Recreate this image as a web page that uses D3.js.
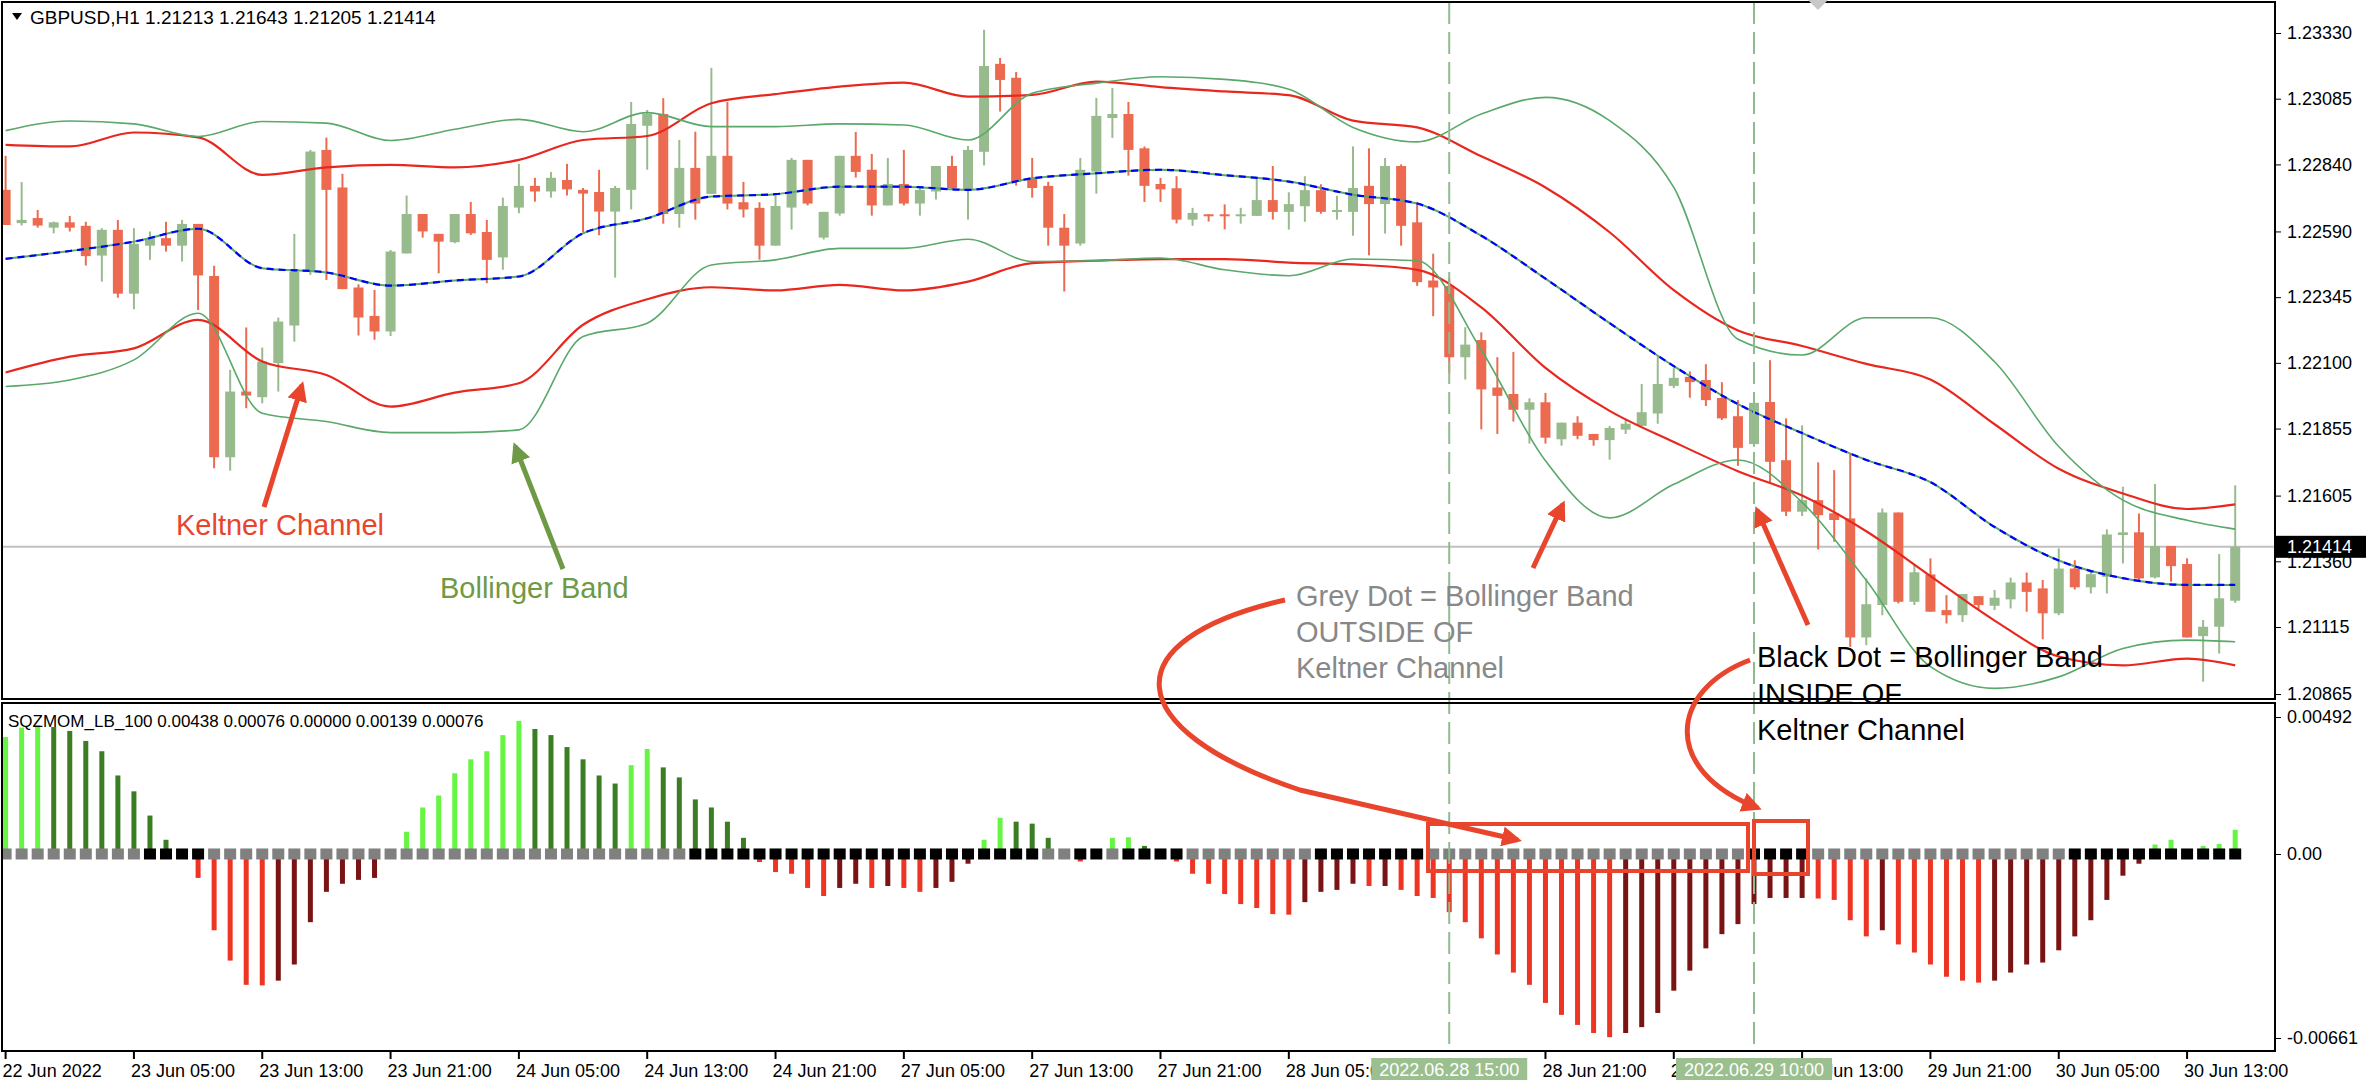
<!DOCTYPE html>
<html><head><meta charset="utf-8">
<script src="https://cdn.jsdelivr.net/npm/d3@7"></script>
<style>body{margin:0;background:#fff}svg{display:block}text{font-family:"Liberation Sans",Arial,sans-serif}</style>
</head><body><svg id="c" width="2366" height="1090"></svg>
<script>
const open=[1.22745,1.22621,1.22640,1.22604,1.22624,1.22611,1.22500,1.22596,1.22358,1.22537,
1.22565,1.22537,1.22618,1.22424,1.21748,1.21993,1.21972,1.22099,1.22239,1.22440,
1.22894,1.22754,1.22381,1.22275,1.22217,1.22508,1.22655,1.22581,1.22550,1.22655,
1.22588,1.22493,1.22679,1.22760,1.22739,1.22782,1.22745,1.22737,1.22664,1.22745,
1.22984,1.23028,1.22655,1.22827,1.22730,1.22872,1.22699,1.22678,1.22537,1.22679,
1.22857,1.22567,1.22657,1.22872,1.22820,1.22687,1.22767,1.22694,1.22739,1.22834,
1.22745,1.22887,1.23215,1.23163,1.22790,1.22760,1.22604,1.22545,1.22813,1.23013,
1.23028,1.22900,1.22767,1.22751,1.22634,1.22654,1.22654,1.22651,1.22648,1.22707,
1.22663,1.22684,1.22744,1.22664,1.22663,1.22760,1.22692,1.22834,1.22624,1.22407,
1.22387,1.22121,1.22185,1.22008,1.21984,1.21925,1.21953,1.21815,1.21877,1.21835,
1.21812,1.21851,1.21865,1.21911,1.22014,1.22048,1.22036,1.21969,1.21901,1.21797,
1.21954,1.21737,1.21545,1.21588,1.21539,1.21520,1.21076,1.21197,1.21542,1.21209,
1.21311,1.21178,1.21159,1.21230,1.21194,1.21218,1.21281,1.21259,1.21166,1.21333,
1.21263,1.21302,1.21458,1.21468,1.21300,1.21417,1.21350,1.21081,1.21116,1.21213];
const high=[1.22872,1.22774,1.22670,1.22627,1.22648,1.22626,1.22602,1.22633,1.22602,1.22590,
1.22626,1.22633,1.22618,1.22462,1.22074,1.22232,1.22157,1.22269,1.22581,1.22894,
1.22940,1.22805,1.22393,1.22372,1.22521,1.22724,1.22655,1.22581,1.22655,1.22700,
1.22633,1.22716,1.22842,1.22790,1.22812,1.22842,1.22752,1.22820,1.22760,1.23073,
1.23043,1.23087,1.22931,1.22962,1.23200,1.23073,1.22775,1.22699,1.22723,1.22864,
1.22857,1.22663,1.22872,1.22961,1.22879,1.22864,1.22894,1.22752,1.22834,1.22872,
1.22909,1.23342,1.23237,1.23185,1.22864,1.22775,1.22655,1.22864,1.23088,1.23125,
1.23073,1.22907,1.22790,1.22796,1.22678,1.22654,1.22691,1.22678,1.22790,1.22834,
1.22736,1.22796,1.22766,1.22723,1.22907,1.22900,1.22864,1.22840,1.22700,1.22507,
1.22417,1.22233,1.22214,1.22121,1.22141,1.21968,1.21988,1.21877,1.21901,1.21835,
1.21865,1.21888,1.22021,1.22125,1.22081,1.22068,1.22095,1.22028,1.21961,1.21955,
1.22110,1.21893,1.21867,1.21729,1.21700,1.21760,1.21296,1.21557,1.21542,1.21348,
1.21371,1.21234,1.21238,1.21230,1.21253,1.21299,1.21318,1.21290,1.21408,1.21364,
1.21327,1.21479,1.21638,1.21538,1.21648,1.21417,1.21371,1.21141,1.21387,1.21643];
const low=[1.22614,1.22612,1.22604,1.22583,1.22590,1.22463,1.22403,1.22343,1.22300,1.22484,
1.22515,1.22478,1.22297,1.21707,1.21698,1.21931,1.21949,1.21993,1.22179,1.22428,
1.22409,1.22375,1.22202,1.22186,1.22200,1.22508,1.22567,1.22434,1.22546,1.22577,
1.22397,1.22447,1.22658,1.22701,1.22716,1.22724,1.22586,1.22576,1.22418,1.22672,
1.22820,1.22619,1.22604,1.22634,1.22730,1.22672,1.22642,1.22485,1.22537,1.22597,
1.22687,1.22560,1.22649,1.22791,1.22649,1.22687,1.22687,1.22649,1.22709,1.22745,
1.22634,1.22836,1.23037,1.22761,1.22716,1.22537,1.22366,1.22537,1.22731,1.22939,
1.22798,1.22700,1.22700,1.22620,1.22611,1.22627,1.22598,1.22619,1.22648,1.22634,
1.22597,1.22626,1.22656,1.22634,1.22574,1.22501,1.22582,1.22537,1.22387,1.22274,
1.22061,1.22038,1.21852,1.21835,1.21881,1.21799,1.21799,1.21791,1.21815,1.21791,
1.21739,1.21835,1.21865,1.21873,1.22006,1.21970,1.21939,1.21887,1.21716,1.21787,
1.21650,1.21529,1.21529,1.21404,1.21433,1.21041,1.21047,1.21159,1.21203,1.21197,
1.21172,1.21128,1.21134,1.21181,1.21178,1.21184,1.21172,1.21069,1.21159,1.21255,
1.21240,1.21240,1.21352,1.21290,1.21296,1.21284,1.21076,1.20911,1.21016,1.21205];
const close=[1.22614,1.22633,1.22612,1.22624,1.22604,1.22498,1.22596,1.22358,1.22544,1.22565,
1.22537,1.22618,1.22426,1.21748,1.21993,1.21978,1.22105,1.22254,1.22440,1.22888,
1.22745,1.22375,1.22269,1.22217,1.22515,1.22655,1.22590,1.22552,1.22655,1.22583,
1.22484,1.22685,1.22760,1.22739,1.22790,1.22747,1.22731,1.22664,1.22752,1.22991,
1.23028,1.22655,1.22827,1.22694,1.22872,1.22694,1.22672,1.22537,1.22685,1.22857,
1.22694,1.22663,1.22872,1.22812,1.22687,1.22767,1.22694,1.22745,1.22834,1.22752,
1.22894,1.23207,1.23155,1.22775,1.22752,1.22604,1.22537,1.22820,1.23021,1.23028,
1.22894,1.22760,1.22747,1.22634,1.22659,1.22647,1.22651,1.22654,1.22707,1.22663,
1.22692,1.22744,1.22663,1.22670,1.22752,1.22692,1.22834,1.22611,1.22401,1.22381,
1.22121,1.22168,1.22001,1.21977,1.21925,1.21953,1.21821,1.21877,1.21828,1.21812,
1.21857,1.21873,1.21916,1.22021,1.22044,1.22028,1.21961,1.21893,1.21783,1.21951,
1.21731,1.21545,1.21588,1.21532,1.21514,1.21076,1.21200,1.21542,1.21209,1.21319,
1.21172,1.21159,1.21238,1.21197,1.21224,1.21281,1.21246,1.21166,1.21333,1.21263,
1.21312,1.21460,1.21468,1.21296,1.21417,1.21342,1.21076,1.21116,1.21222,1.21414];
const bandIdx=[0,4,8,12,16,20,24,28,32,36,40,44,48,52,56,60,64,68,72,76,80,84,88,92,96,100,104,108,112,116,120,124,128,132,136,139];
const bbUpper=[1.22966,1.23002,1.22991,1.22944,1.23000,1.22994,1.22929,1.22971,1.23008,1.22962,1.23033,1.22981,1.22981,1.22991,1.22987,1.22931,1.23105,1.23143,1.23167,1.23157,1.23120,1.22978,1.22924,1.23028,1.23090,1.23003,1.22754,1.22188,1.22129,1.22268,1.22268,1.22104,1.21788,1.21588,1.21513,1.21480];
const kcUpper=[1.22913,1.22907,1.22959,1.22941,1.22801,1.22829,1.22838,1.22829,1.22857,1.22931,1.22946,1.23068,1.23102,1.23130,1.23145,1.23093,1.23099,1.23149,1.23128,1.23112,1.23098,1.23003,1.22978,1.22870,1.22754,1.22587,1.22371,1.22221,1.22163,1.22096,1.22038,1.21871,1.21705,1.21613,1.21555,1.21572];
const midLine=[1.22488,1.22517,1.22552,1.22600,1.22453,1.22437,1.22388,1.22407,1.22422,1.22583,1.22639,1.22720,1.22729,1.22757,1.22757,1.22745,1.22788,1.22807,1.22820,1.22800,1.22776,1.22727,1.22694,1.22574,1.22414,1.22248,1.22088,1.21946,1.21838,1.21738,1.21655,1.21488,1.21363,1.21297,1.21272,1.21272];
const kcLower=[1.22064,1.22123,1.22154,1.22260,1.22105,1.22055,1.21937,1.21989,1.22024,1.22242,1.22337,1.22382,1.22370,1.22391,1.22370,1.22403,1.22472,1.22481,1.22487,1.22487,1.22474,1.22467,1.22447,1.22307,1.22081,1.21921,1.21805,1.21696,1.21605,1.21472,1.21305,1.21139,1.21005,1.20972,1.20997,1.20972];
const bbLower=[1.22012,1.22036,1.22111,1.22285,1.21912,1.21881,1.21840,1.21840,1.21850,1.22198,1.22248,1.22465,1.22484,1.22527,1.22527,1.22561,1.22478,1.22481,1.22491,1.22447,1.22425,1.22487,1.22481,1.22148,1.21735,1.21522,1.21647,1.21738,1.21580,1.21289,1.20967,1.20886,1.20929,1.21035,1.21066,1.21060];
const momentum=[0.00420,0.00454,0.00463,0.00456,0.00442,0.00406,0.00369,0.00282,0.00225,0.00138,
0.00051,0,-0.00086,-0.00274,-0.00383,-0.00470,-0.00472,-0.00455,-0.00397,-0.00245,
-0.00136,-0.00107,-0.00093,-0.00086,0,0.00080,0.00167,0.00210,0.00290,0.00340,
0.00369,0.00427,0.00478,0.00449,0.00427,0.00384,0.00340,0.00282,0.00253,0.00319,
0.00377,0.00311,0.00275,0.00196,0.00167,0.00116,0.00058,-0.00029,-0.00065,-0.00071,
-0.00122,-0.00151,-0.00122,-0.00107,-0.00122,-0.00115,-0.00122,-0.00136,-0.00122,-0.00100,
-0.00035,0.00051,0.00130,0.00116,0.00109,0.00058,0,-0.00027,0,0.00058,
0.00060,0.00029,0,-0.00027,-0.00071,-0.00107,-0.00144,-0.00180,-0.00194,-0.00216,
-0.00218,-0.00173,-0.00136,-0.00129,-0.00107,-0.00115,-0.00115,-0.00129,-0.00151,-0.00158,
-0.00209,-0.00245,-0.00303,-0.00361,-0.00426,-0.00470,-0.00535,-0.00578,-0.00614,-0.00643,
-0.00658,-0.00643,-0.00622,-0.00571,-0.00491,-0.00419,-0.00339,-0.00288,-0.00252,-0.00180,
-0.00158,-0.00158,-0.00158,-0.00160,-0.00165,-0.00238,-0.00296,-0.00274,-0.00325,-0.00354,
-0.00397,-0.00441,-0.00455,-0.00462,-0.00455,-0.00426,-0.00397,-0.00390,-0.00346,-0.00296,
-0.00238,-0.00165,-0.00078,-0.00035,0.00034,0.00051,0,0.00029,0.00036,0.00087];
const squeezeOn=[0,0,0,0,0,0,0,0,0,1,1,1,1,0,0,0,0,0,0,0,0,0,0,0,0,0,0,0,0,0,
0,0,0,0,0,0,0,0,0,0,0,0,0,1,1,1,1,1,1,1,1,1,1,1,1,1,1,1,1,1,
1,1,1,1,1,0,0,1,1,0,1,1,1,1,0,0,0,0,0,0,0,0,1,1,1,1,1,1,1,0,
0,0,0,0,0,0,0,0,0,0,0,0,0,0,0,0,0,0,0,1,1,1,1,0,0,0,0,0,0,0,
0,0,0,0,0,0,0,0,0,1,1,1,1,1,1,1,1,1,1,1];
const priceTicks=[1.23330,1.23085,1.22840,1.22590,1.22345,1.22100,1.21855,1.21605,1.21360,1.21115,1.20865];
const momTicks=[0.00492,0,-0.00661];
const momTickLabels=["0.00492","0.00","-0.00661"];
const timeLabelIdx=[0,8,16,24,32,40,48,56,64,72,80,96,104,112,120,128,136];
const timeLabels=["22 Jun 2022","23 Jun 05:00","23 Jun 13:00","23 Jun 21:00","24 Jun 05:00","24 Jun 13:00","24 Jun 21:00","27 Jun 05:00","27 Jun 13:00","27 Jun 21:00","28 Jun 05:00","28 Jun 21:00","29 Jun 05:00","29 Jun 13:00","29 Jun 21:00","30 Jun 05:00","30 Jun 13:00"];
const markIdx=[90,109];
const markLabels=["2022.06.28 15:00","2022.06.29 10:00"];
const lastPrice=1.21414;

const svg=d3.select("#c");
const R=2275, PT=2, PB=699, IT=703, IB=1051;
const x=d3.scaleLinear().domain([0,139]).range([5.6,2235.2]);
const y=d3.scaleLinear().domain([1.23330,1.21115]).range([33,627]);
const ym=d3.scaleLinear().domain([0.00492,-0.00661]).range([717,1038]);
svg.append("rect").attr("width",2366).attr("height",1090).attr("fill","#fff");
const defs=svg.append("defs");
defs.append("clipPath").attr("id","cp").append("rect").attr("x",3).attr("y",PT+1).attr("width",R-4).attr("height",PB-PT-2);
defs.append("clipPath").attr("id","ci").append("rect").attr("x",3).attr("y",IT+1).attr("width",R-4).attr("height",IB-IT-2);

const gp=svg.append("g").attr("clip-path","url(#cp)");
gp.append("line").attr("x1",0).attr("x2",R).attr("y1",y(lastPrice)).attr("y2",y(lastPrice)).attr("stroke","#c0c0c0").attr("stroke-width",2);
const bull="#98bb8e", bear="#ec6b50";
const idx=d3.range(140);
gp.selectAll(".w").data(idx).join("line").attr("x1",i=>x(i)).attr("x2",i=>x(i)).attr("y1",i=>y(high[i])).attr("y2",i=>y(low[i]))
 .attr("stroke",i=>close[i]>=open[i]?bull:bear).attr("stroke-width",2);
gp.selectAll(".b").data(idx).join("rect").attr("x",i=>x(i)-5).attr("width",10)
 .attr("y",i=>y(Math.max(open[i],close[i]))).attr("height",i=>Math.max(2,Math.abs(y(open[i])-y(close[i]))))
 .attr("fill",i=>close[i]>=open[i]?bull:bear);
const ln=arr=>d3.line().x((d,k)=>x(bandIdx[k])).y(d=>y(d)).curve(d3.curveMonotoneX)(arr);
[[kcUpper,"#e8281e",2.2],[kcLower,"#e8281e",2.2],[bbUpper,"#5aa86a",1.6],[bbLower,"#5aa86a",1.6],[midLine,"#5aa86a",2]].forEach(([a,c,w])=>
 gp.append("path").attr("d",ln(a)).attr("fill","none").attr("stroke",c).attr("stroke-width",w));
gp.append("path").attr("d",ln(midLine)).attr("fill","none").attr("stroke","#0000ff").attr("stroke-width",2.2).attr("stroke-dasharray","7,5");

const gi=svg.append("g").attr("clip-path","url(#ci)");
const col=i=>{const v=momentum[i],p=i>0?momentum[i-1]:0;return v>=0?(v>=p?"#66f542":"#3b7d23"):(v<p?"#ee3524":"#7a1414");};
gi.selectAll(".h").data(idx.filter(i=>momentum[i]!==0)).join("rect").attr("x",i=>x(i)-2.5).attr("width",5)
 .attr("y",i=>Math.min(ym(0),ym(momentum[i]))).attr("height",i=>Math.abs(ym(momentum[i])-ym(0))).attr("fill",col);
gi.selectAll(".d").data(idx).join("rect").attr("x",i=>x(i)-6).attr("width",12).attr("y",ym(0)-5.5).attr("height",11)
 .attr("fill",i=>squeezeOn[i]?"#000":"#808080");

markIdx.forEach(i=>svg.append("line").attr("x1",x(i)).attr("x2",x(i)).attr("y1",PT).attr("y2",IB).attr("stroke","#8fbc8f").attr("stroke-width",2).attr("stroke-dasharray","22,8"));

svg.append("rect").attr("x",2).attr("y",PT).attr("width",R-2).attr("height",PB-PT).attr("fill","none").attr("stroke","#000").attr("stroke-width",2);
svg.append("rect").attr("x",2).attr("y",IT).attr("width",R-2).attr("height",IB-IT).attr("fill","none").attr("stroke","#000").attr("stroke-width",2);

const pa=svg.append("g").attr("transform",`translate(${R},0)`).call(d3.axisRight(y).tickValues(priceTicks).tickFormat(d3.format(".5f")).tickSize(6).tickPadding(6));
pa.select(".domain").remove();
pa.selectAll("text").attr("font-size",18).attr("fill","#000").style("font-family","Liberation Sans");
const lp=svg.append("g");
lp.append("rect").attr("x",R+1).attr("y",y(lastPrice)-11).attr("width",90).attr("height",22).attr("fill","#000");
lp.append("text").attr("x",R+12).attr("y",y(lastPrice)+6).attr("fill","#fff").attr("font-size",18).text(lastPrice.toFixed(5));
const ma=svg.append("g").attr("transform",`translate(${R},0)`).call(d3.axisRight(ym).tickValues(momTicks).tickFormat((d,k)=>momTickLabels[k]).tickSize(6).tickPadding(6));
ma.select(".domain").remove();
ma.selectAll("text").attr("font-size",18).attr("fill","#000").style("font-family","Liberation Sans");

const ta=svg.append("g");
timeLabelIdx.forEach((i,k)=>{
 ta.append("line").attr("x1",x(i)).attr("x2",x(i)).attr("y1",IB).attr("y2",IB+8).attr("stroke","#000").attr("stroke-width",2);
 ta.append("text").attr("x",x(i)-3).attr("y",1077).attr("font-size",18).text(timeLabels[k]);
});
markIdx.forEach((i,k)=>{
 ta.append("rect").attr("x",x(i)-78).attr("y",1058).attr("width",156).attr("height",22).attr("fill","#9bbf8f");
 ta.append("text").attr("x",x(i)).attr("y",1076).attr("text-anchor","middle").attr("font-size",18).attr("fill","#fff").text(markLabels[k]);
});

svg.append("path").attr("d","M12,13 L22,13 L17,20 Z").attr("fill","#000");
svg.append("text").attr("x",30).attr("y",24).attr("font-size",19).text("GBPUSD,H1  1.21213 1.21643 1.21205 1.21414");
svg.append("text").attr("x",8).attr("y",727).attr("font-size",17).text("SQZMOM_LB_100 0.00438 0.00076 0.00000 0.00139 0.00076");
svg.append("path").attr("d","M1808,0 L1818,10 L1828,0 Z").attr("fill","#c8c8c8");

const red="#e8452c";
defs.append("marker").attr("id","ah").attr("viewBox","0 0 10 10").attr("refX",8).attr("refY",5).attr("markerWidth",4).attr("markerHeight",4).attr("orient","auto")
 .append("path").attr("d","M0,0 L10,5 L0,10 Z").attr("fill",red);
defs.append("marker").attr("id","ag").attr("viewBox","0 0 10 10").attr("refX",8).attr("refY",5).attr("markerWidth",4).attr("markerHeight",4).attr("orient","auto")
 .append("path").attr("d","M0,0 L10,5 L0,10 Z").attr("fill","#6f9a45");
const arrow=(d,m,c)=>svg.append("path").attr("d",d).attr("fill","none").attr("stroke",c).attr("stroke-width",5).attr("marker-end",`url(#${m})`);
arrow("M264,507 L302,385","ah",red);
arrow("M563,569 L515,446","ag","#6f9a45");
arrow("M1533,568 L1563,504","ah",red);
arrow("M1808,625 L1757,510","ah",red);
arrow("M1285,600 C1110,640 1120,730 1300,790 L1518,840","ah",red);
arrow("M1750,660 C1670,690 1660,770 1758,808","ah",red);
const tx=(x0,y0,t,c)=>svg.append("text").attr("x",x0).attr("y",y0).attr("font-size",29).attr("fill",c).text(t);
tx(176,535,"Keltner Channel",red);
tx(440,598,"Bollinger Band","#6f9a45");
tx(1296,606,"Grey Dot = Bollinger Band","#888");
tx(1296,642,"OUTSIDE OF","#888");
tx(1296,678,"Keltner Channel","#888");
tx(1757,667,"Black Dot = Bollinger Band","#000");
tx(1757,704,"INSIDE OF","#000");
tx(1757,740,"Keltner Channel","#000");
svg.append("rect").attr("x",1428).attr("y",824).attr("width",320).attr("height",47).attr("fill","none").attr("stroke",red).attr("stroke-width",4);
svg.append("rect").attr("x",1754).attr("y",821).attr("width",54).attr("height",53).attr("fill","none").attr("stroke",red).attr("stroke-width",4);
</script></body></html>
